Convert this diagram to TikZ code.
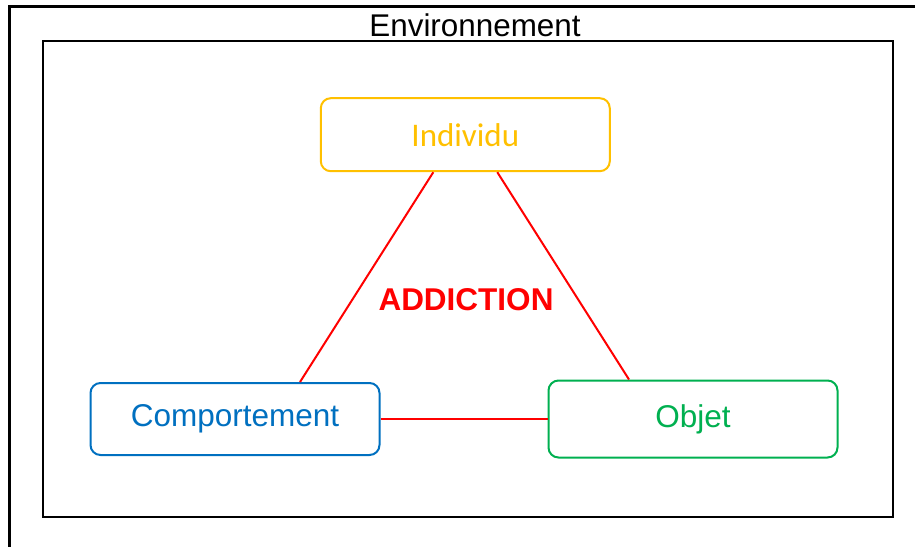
\documentclass[tikz,border=0pt]{standalone}
\usepackage{fontspec}
\setmainfont{Liberation Sans}
\newfontfamily\calibrifont{Carlito}
\usepackage{xcolor}
\usepackage{tikz}
\usetikzlibrary{positioning}
\definecolor{indcol}{HTML}{FFC000}
\definecolor{compcol}{HTML}{0070C0}
\definecolor{objcol}{HTML}{00B050}
\definecolor{addcol}{HTML}{FF0000}
\tikzset{
    frame/.style={draw=black, line width=2.2pt},
    pole/.style={draw, rounded corners=10pt, line width=2pt, fill=white, minimum width=289pt, minimum height=73pt, inner sep=0pt, font=\fontsize{31.5}{36}\selectfont},
    link/.style={draw=addcol, line width=2pt}
}

\begin{document}
\begin{tikzpicture}[x=1pt, y=-1pt]
    \useasboundingbox (0,0) rectangle (915,546);
    \draw[frame] (9.5,6.5) rectangle (940,570);
    \draw[frame] (43,41) rectangle (893,517);
    \node (env) at (475,25) {\fontsize{31.4}{36}\selectfont Environnement};
    \node[pole, draw=indcol, text=indcol, font=\calibrifont\fontsize{33}{38}\selectfont] (ind) at (465.3,134.7) {Individu};
    \node[pole, draw=compcol, text=compcol, minimum height=72pt] (comp) at (235,419) {Comportement};
    \node[pole, draw=objcol, text=objcol, minimum height=77pt] (obj) at (693,419) {Objet};
    \node[text=addcol, font=\bfseries\fontsize{31.5}{36}\selectfont] (add) at (466,300) {ADDICTION};
    \draw[link] ([xshift=-32pt]ind.south) -- ([xshift=65pt]comp.north);
    \draw[link] ([xshift=32pt]ind.south) -- ([xshift=-64pt]obj.north);
    \draw[link] (comp.east) -- (obj.west);
\end{tikzpicture}
\end{document}
